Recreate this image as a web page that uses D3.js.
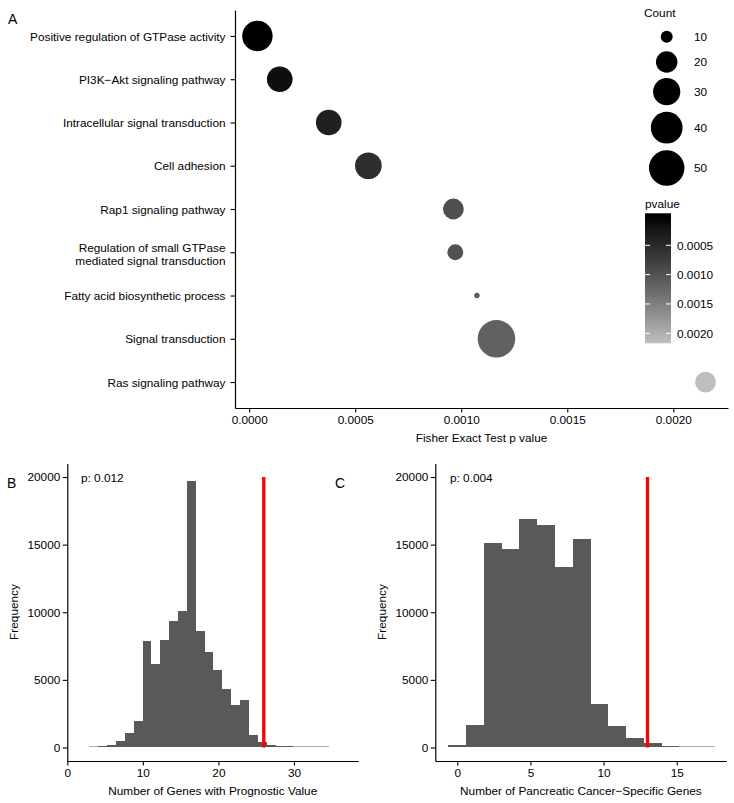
<!DOCTYPE html>
<html><head><meta charset="utf-8">
<script src="https://cdn.jsdelivr.net/npm/d3@7/dist/d3.min.js"></script>
<style>
body{margin:0;background:#fff}
svg{display:block}
text{font-family:"Liberation Sans",Arial,Helvetica,sans-serif;fill:#000}
</style></head><body>
<svg id="c" width="734" height="803"></svg>
<script>
// ---------- Panel A data ----------
const terms = ["Positive regulation of GTPase activity","PI3K−Akt signaling pathway","Intracellular signal transduction","Cell adhesion","Rap1 signaling pathway","Regulation of small GTPase\nmediated signal transduction","Fatty acid biosynthetic process","Signal transduction","Ras signaling pathway"];
const pvalues = [0.0000386,0.000144,0.000375,0.000562,0.000963,0.000972,0.001074,0.001166,0.002152];
const counts = [37,27,27,29,19,13,8,56,19];
const pTicks = [0,0.0005,0.001,0.0015,0.002];
const countLegend = [10,20,30,40,50];
const colorTicks = [0.0005,0.001,0.0015,0.002];

// ---------- Panel B data ----------
const binCentersB = [3.52,4.69,5.86,7.03,8.21,9.38,10.55,11.72,12.90,14.07,15.24,16.41,17.59,18.76,19.93,21.10,22.28,23.45,24.62,25.79,26.97,28.14,29.31,30.48,31.66,32.83,34.00];
const freqB = [20,60,150,470,1040,1950,7900,6170,7930,9330,10120,19680,8640,7090,5750,4300,3140,3480,890,400,220,100,50,30,15,8,5];
const binWidthB = 1.1724;
const observedB = 26;
const pLabelB = "p: 0.012";
const xTicksB = [0,10,20,30];

// ---------- Panel C data ----------
const binCentersC = [0,1.21,2.43,3.64,4.86,6.07,7.29,8.50,9.71,10.93,12.14,13.36,14.57,15.79,17.00];
const freqC = [220,1680,15100,14650,16880,16430,13350,15380,3190,1580,670,300,100,15,5];
const binWidthC = 1.2143;
const observedC = 13;
const pLabelC = "p: 0.004";
const xTicksC = [0,5,10,15];

const freqTicks = [0,5000,10000,15000,20000];

const FS = "11.8px";
const svg = d3.select("#c");

function styleAxis(g){
  g.selectAll(".domain").attr("stroke","#000").attr("stroke-width",1.2);
  g.selectAll(".tick line").attr("stroke","#000").attr("stroke-width",1.1);
  g.selectAll(".tick text").attr("font-size",FS).attr("fill","#000")
    .attr("font-family",'"Liberation Sans",Arial,Helvetica,sans-serif');
}

// ================= Panel A =================
const xA = d3.scaleLinear().domain([-0.000067,0.002258]).range([235,728]);
const yA = d3.scalePoint().domain(terms).range([10,408]).padding(0.6);
const sizeNorm = d3.scaleLinear().domain(d3.extent(counts)).range([0,1]);
const sizeR = d3.scaleLinear().domain([0,1]).range([2.7,18.8]);
const rOf = c => sizeR(Math.sqrt(Math.max(0,sizeNorm(c))));
const color = d3.scaleLinear().domain(d3.extent(pvalues)).range(["#000000","#bebebe"]).interpolate(d3.interpolateLab).clamp(true);

const gA = svg.append("g");
const axA = gA.append("g").attr("transform","translate(0,408)")
  .call(d3.axisBottom(xA).tickValues(pTicks).tickFormat(d3.format(".4f")).tickSizeOuter(0).tickSizeInner(4.5).tickPadding(3));
styleAxis(axA);
const ayA = gA.append("g").attr("transform","translate(235,0)")
  .call(d3.axisLeft(yA).tickSizeOuter(0).tickSizeInner(4.5).tickFormat(""));
styleAxis(ayA);
ayA.selectAll(".tick").each(function(d){
  const lines = d.split("\n");
  const t = d3.select(this).append("text").attr("x",-9.5).attr("text-anchor","end").attr("font-size",FS).attr("fill","#000")
    .attr("font-family",'"Liberation Sans",Arial,Helvetica,sans-serif');
  if(lines.length===1){ t.append("tspan").attr("x",-9.5).attr("y",4.2).text(lines[0]); }
  else { lines.forEach((l,i)=> t.append("tspan").attr("x",-9.5).attr("y",-1.2+i*13.7).text(l)); }
});
gA.append("g").selectAll("circle").data(terms).join("circle")
  .attr("cx",(d,i)=>xA(pvalues[i])).attr("cy",d=>yA(d))
  .attr("r",(d,i)=>rOf(counts[i])).attr("fill",(d,i)=>color(pvalues[i]));
gA.append("text").attr("x",(235+728)/2).attr("y",442).attr("text-anchor","middle").attr("font-size",FS).text("Fisher Exact Test p value");
gA.append("text").attr("x",8).attr("y",24).attr("font-size","14px").text("A");

// Size legend
const legG = svg.append("g");
legG.append("text").attr("x",644).attr("y",17).attr("font-size",FS).text("Count");
const legY = d3.scaleOrdinal().domain(countLegend).range([36.7,62,91.7,127.7,168]);
countLegend.forEach(c=>{
  legG.append("circle").attr("cx",666.7).attr("cy",legY(c)).attr("r",rOf(c)).attr("fill","#000");
  legG.append("text").attr("x",694).attr("y",legY(c)+4.2).attr("font-size",FS).text(c);
});
// Color legend
legG.append("text").attr("x",645).attr("y",208).attr("font-size",FS).text("pvalue");
const cbTop=213.3, cbBot=343.3, cbL=645, cbW=26;
const cbY = d3.scaleLinear().domain([0.0005,0.002]).range([245.3,333.3]);
const defs = svg.append("defs");
const grad = defs.append("linearGradient").attr("id","cbg").attr("x1",0).attr("y1",0).attr("x2",0).attr("y2",1);
d3.range(0,21).forEach(i=>{
  const yy = cbTop + (cbBot-cbTop)*i/20;
  grad.append("stop").attr("offset",(i/20)).attr("stop-color",color(cbY.invert(yy)));
});
legG.append("rect").attr("x",cbL).attr("y",cbTop).attr("width",cbW).attr("height",cbBot-cbTop).attr("fill","url(#cbg)");
colorTicks.forEach(p=>{
  const yy=cbY(p);
  legG.append("line").attr("x1",cbL).attr("x2",cbL+5).attr("y1",yy).attr("y2",yy).attr("stroke","#fff").attr("stroke-width",1);
  legG.append("line").attr("x1",cbL+cbW-5).attr("x2",cbL+cbW).attr("y1",yy).attr("y2",yy).attr("stroke","#fff").attr("stroke-width",1);
  legG.append("text").attr("x",677).attr("y",yy+4.2).attr("font-size",FS).text(d3.format(".4f")(p));
});

// ================= Histogram panels =================
function hist(o){
  const g = svg.append("g");
  const x = d3.scaleLinear().domain(o.xDomain).range(o.xRange);
  const y = d3.scaleLinear().domain([-1000,21000]).range([761,463.5]);
  g.append("g").attr("shape-rendering","crispEdges").selectAll("rect").data(o.centers).join("rect")
    .attr("x",d=>x(d-o.width/2)).attr("width",d=>x(d+o.width/2)-x(d-o.width/2))
    .attr("y",(d,i)=>Math.min(y(o.freq[i]),y(0)-1)).attr("height",(d,i)=>Math.max(1,y(0)-y(o.freq[i])))
    .attr("fill",(d,i)=> (y(0)-y(o.freq[i]))<0.5 ? "#b0b0b0" : "#595959");
  g.append("line").attr("x1",x(o.observed)).attr("x2",x(o.observed)).attr("y1",y(0)).attr("y2",y(20000))
    .attr("stroke","#ff0000").attr("stroke-width",3.3);
  const ax = g.append("g").attr("transform","translate(0,761)")
    .call(d3.axisBottom(x).tickValues(o.xTicks).tickFormat(d3.format("d")).tickSizeOuter(0).tickSizeInner(4.5).tickPadding(3));
  styleAxis(ax);
  const ay = g.append("g").attr("transform",`translate(${o.xRange[0]},0)`)
    .call(d3.axisLeft(y).tickValues(freqTicks).tickFormat(d3.format("d")).tickSizeOuter(0).tickSizeInner(4.5).tickPadding(2.5));
  styleAxis(ay);
  g.append("text").attr("x",(o.xRange[0]+o.xRange[1])/2).attr("y",795).attr("text-anchor","middle").attr("font-size",FS).text(o.xTitle);
  g.append("text").attr("transform",`translate(${o.yTitleX},612) rotate(-90)`).attr("text-anchor","middle").attr("font-size",FS).text("Frequency");
  g.append("text").attr("x",o.pX).attr("y",482).attr("font-size",FS).text(o.pLabel);
  g.append("text").attr("x",o.letterX).attr("y",488).attr("font-size","14px").text(o.letter);
}
hist({centers:binCentersB,freq:freqB,width:binWidthB,observed:observedB,xDomain:[0,38.5],xRange:[67.3,358.2],
  xTicks:xTicksB,xTitle:"Number of Genes with Prognostic Value",yTitleX:18,pX:81,pLabel:pLabelB,letter:"B",letterX:7});
hist({centers:binCentersC,freq:freqC,width:binWidthC,observed:observedC,xDomain:[-1.5,18.4],xRange:[435.3,726.5],
  xTicks:xTicksC,xTitle:"Number of Pancreatic Cancer−Specific Genes",yTitleX:386,pX:450,pLabel:pLabelC,letter:"C",letterX:335});
</script>
</body></html>
